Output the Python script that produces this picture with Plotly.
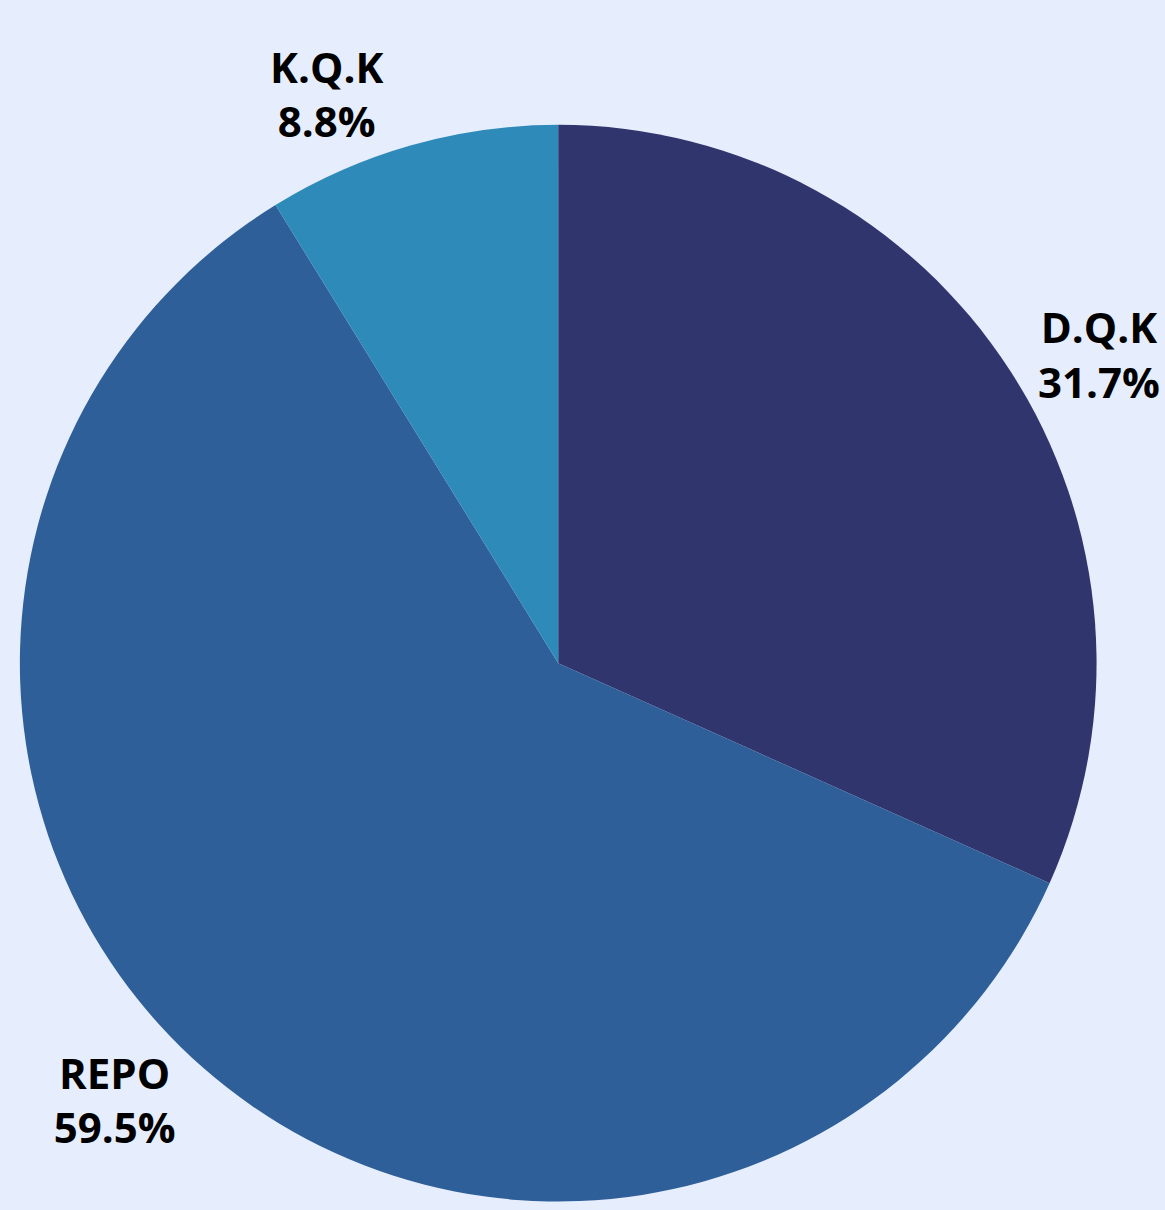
import plotly.graph_objects as go

labels = ["D.Q.K", "REPO", "K.Q.K"]
values = [31.7, 59.5, 8.8]
colors = ["#31356E", "#2F5F98", "#2E8AB8"]

fig = go.Figure(data=[go.Pie(
    labels=labels,
    values=values,
    sort=False,
    direction="clockwise",
    rotation=0,
    marker=dict(colors=colors, line=dict(width=0)),
    textposition="outside",
    texttemplate="%{label}<br>%{percent:.1%}",
    textfont=dict(family="Open Sans", size=42, color="#000000", weight="bold"),
    domain=dict(x=[0.0172, 0.9494], y=[0.0, 0.8975]),
    showlegend=False,
)])

fig.update_layout(
    width=1165,
    height=1210,
    margin=dict(l=0, r=0, t=0, b=0),
    paper_bgcolor="#E6EEFD",
    plot_bgcolor="#E6EEFD",
)

# no page margin / scrollbars so the figure fills the window exactly
js = ("document.body.style.margin='0';"
      "document.body.style.overflow='hidden';"
      "document.documentElement.style.overflow='hidden';")
fig.write_html("out.html", post_script=js, config={"displayModeBar": False})
